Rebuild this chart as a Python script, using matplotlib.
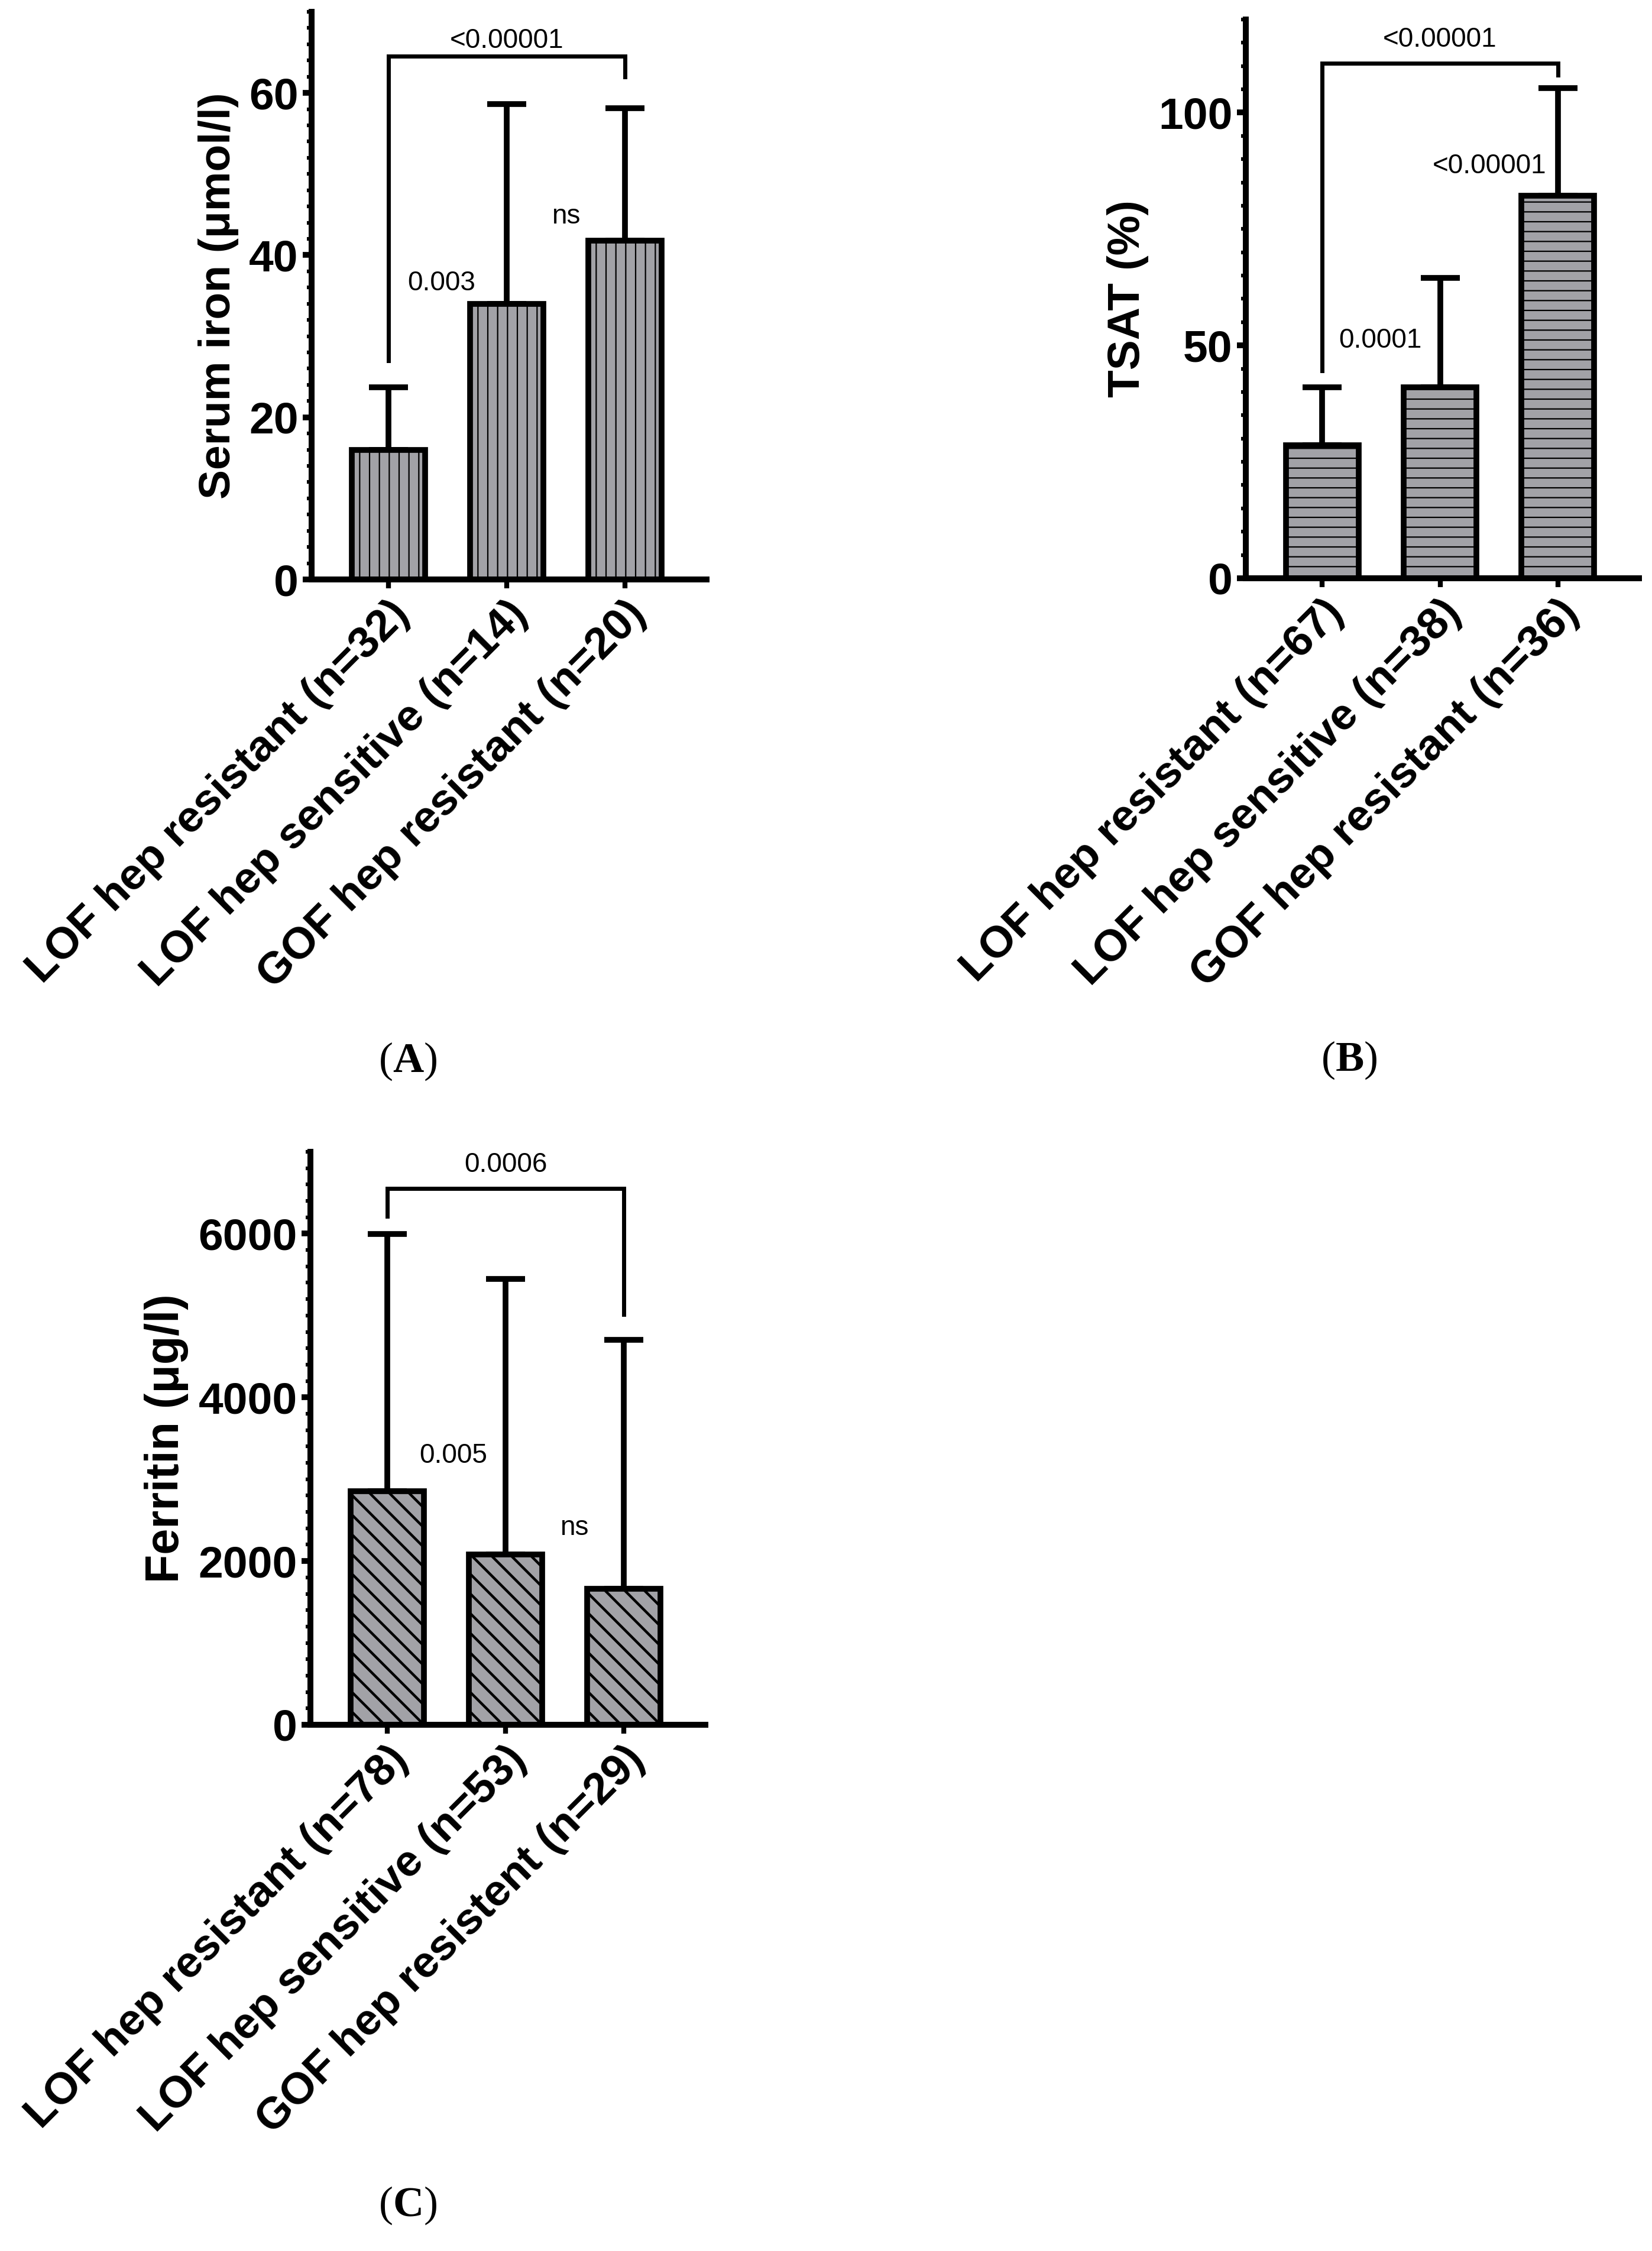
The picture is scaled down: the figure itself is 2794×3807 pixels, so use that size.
import numpy as np
import matplotlib
matplotlib.use("Agg")
import matplotlib.pyplot as plt
from matplotlib.ticker import MultipleLocator

# --- data ---
labels_a = ["LOF hep resistant (n=32)", "LOF hep sensitive (n=14)", "GOF hep resistant (n=20)"]
iron_mean = [16.0, 34.0, 41.8]
iron_sd = [7.7, 24.6, 16.3]

labels_b = ["LOF hep resistant (n=67)", "LOF hep sensitive (n=38)", "GOF hep resistant (n=36)"]
tsat_mean = [28.6, 41.0, 82.1]
tsat_sd = [12.4, 23.5, 23.2]

labels_c = ["LOF hep resistant (n=78)", "LOF hep sensitive (n=53)", "GOF hep resistent (n=29)"]
ferritin_mean = [2850, 2080, 1660]
ferritin_sd = [3145, 3370, 3040]

# p-values: (text, x, y)
notes_a = [("<0.00001", 1.0, 66.4), ("0.003", 0.45, 36.5), ("ns", 1.5, 44.8)]
notes_b = [("<0.00001", 1.0, 115.7), ("0.0001", 0.49, 51.0), ("<0.00001", 1.42, 88.5)]
notes_c = [("0.0006", 1.0, 6840), ("0.005", 0.56, 3285), ("ns", 1.58, 2409)]

# bracket: (y of bar, left leg end, right leg end)
bracket_a = (64.5, 27.0, 62.0)
bracket_b = (110.6, 44.6, 108.0)
bracket_c = (6555, 6214, 5012)

W, H = 2794, 3807
plt.rcParams['font.family'] = ['Liberation Sans', 'DejaVu Sans']
plt.rcParams['hatch.linewidth'] = 2.0
plt.rcParams['mathtext.fontset'] = 'custom'
plt.rcParams['mathtext.rm'] = 'Liberation Serif'
plt.rcParams['mathtext.bf'] = 'Liberation Serif:bold'

fig = plt.figure(figsize=(W / 100, H / 100), dpi=100)


def panel(ax, means, sds, labels, hatch, hlw, ylim, major, minor, ylabel, ylsize,
          bracket, notes):
    x = np.arange(len(means))
    bars = ax.bar(x, means, width=0.62, color='#a2a2a7', edgecolor='black',
                  linewidth=7, hatch=hatch, zorder=2)
    for p in bars:
        if hasattr(p, 'set_hatch_linewidth'):
            p.set_hatch_linewidth(hlw)
    ax.errorbar(x, means, yerr=[np.zeros(len(sds)), sds], fmt='none',
                ecolor='black', elinewidth=7, capsize=24, capthick=7, zorder=1)
    by, bl, br = bracket
    ax.plot([0, 0, 2, 2], [bl, by, by, br], color='black', lw=5,
            solid_joinstyle='miter', zorder=3)
    for txt, tx, ty in notes:
        ax.text(tx, ty, txt, ha='center', va='center', fontsize=33)

    ax.set_xlim(-0.65, 2.69)
    ax.set_ylim(*ylim)
    ax.yaxis.set_major_locator(MultipleLocator(major))
    ax.yaxis.set_minor_locator(MultipleLocator(minor))
    ax.set_xticks(x)
    ax.set_xticklabels(labels, fontsize=54, fontweight='bold')
    plt.setp(ax.get_xticklabels(), rotation=45, ha='right', va='top',
             rotation_mode='anchor')
    for lab in ax.get_yticklabels():
        lab.set_fontweight('bold')
    ax.tick_params(axis='y', which='major', labelsize=54, length=11,
                   width=7, pad=5)
    ax.tick_params(axis='y', which='minor', length=6, width=4.5)
    ax.tick_params(axis='x', length=11, width=6, pad=6)
    ax.set_ylabel(ylabel, fontsize=ylsize, fontweight='bold', labelpad=12)
    for s in ['top', 'right']:
        ax.spines[s].set_visible(False)
    for s in ['left', 'bottom']:
        ax.spines[s].set_linewidth(7.2)


axA = fig.add_axes([527 / W, 1 - 980 / H, 668 / W, 960 / H])
panel(axA, iron_mean, iron_sd, labels_a, '|', 1.6, (0, 70), 20, 2,
      "Serum iron (\u03bcmol/l)", 54, bracket_a, notes_a)

axB = fig.add_axes([2107 / W, 1 - 978 / H, 665 / W, 945 / H])
panel(axB, tsat_mean, tsat_sd, labels_b, '-', 1.6, (0, 120), 50, 5,
      "TSAT (%)", 55, bracket_b, notes_b)

axC = fig.add_axes([525 / W, 1 - 2917 / H, 668 / W, 969 / H])
panel(axC, ferritin_mean, ferritin_sd, labels_c, '\\', 3.2, (0, 7000), 2000, 200,
      "Ferritin (\u03bcg/l)", 57, bracket_c, notes_c)

fig.text(690 / W, 1 - 1795 / H, r"$(\mathbf{A})$", fontsize=52, ha='center', va='center')
fig.text(2282 / W, 1 - 1793 / H, r"$(\mathbf{B})$", fontsize=52, ha='center', va='center')
fig.text(690 / W, 1 - 3730 / H, r"$(\mathbf{C})$", fontsize=52, ha='center', va='center')

fig.savefig("out.png", dpi=100, facecolor='white')
